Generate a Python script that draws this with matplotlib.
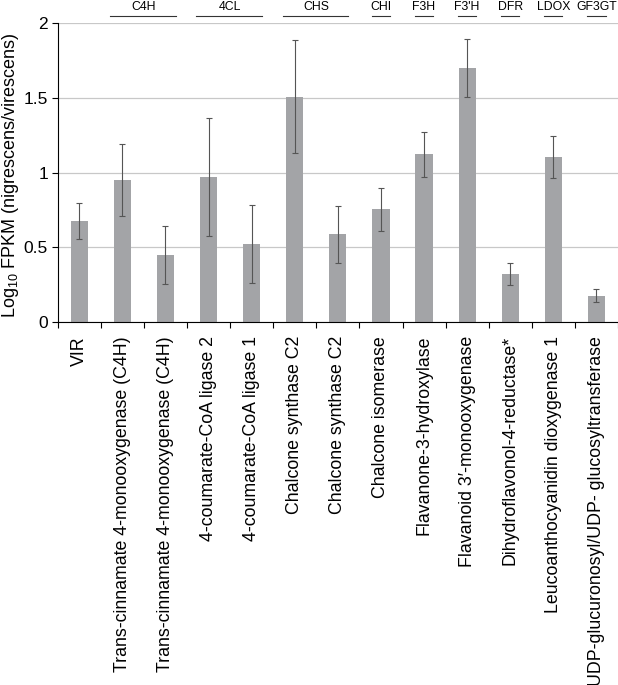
import matplotlib
matplotlib.use("Agg")
import matplotlib.pyplot as plt
import numpy as np

plt.rcParams['font.family'] = ['Liberation Sans', 'DejaVu Sans']
plt.rcParams['mathtext.fontset'] = 'custom'
plt.rcParams['mathtext.rm'] = 'Liberation Sans'

genes = ["VIR",
         "Trans-cinnamate 4-monooxygenase (C4H)",
         "Trans-cinnamate 4-monooxygenase (C4H)",
         "4-coumarate-CoA ligase 2",
         "4-coumarate-CoA ligase 1",
         "Chalcone synthase C2",
         "Chalcone synthase C2",
         "Chalcone isomerase",
         "Flavanone-3-hydroxylase",
         "Flavanoid 3\u2032-monooxygenase",
         "Dihydroflavonol-4-reductase*",
         "Leucoanthocyanidin dioxygenase 1",
         "UDP-glucuronosyl/UDP- glucosyltransferase"]
values = [0.675, 0.95, 0.446, 0.968, 0.522, 1.507, 0.588, 0.754, 1.122, 1.70, 0.321, 1.104, 0.177]
errors = [0.118, 0.242, 0.194, 0.395, 0.26, 0.378, 0.19, 0.145, 0.151, 0.196, 0.075, 0.14, 0.044]

# enzyme groups above the bars: (label, first bar, last bar)
groups = [("C4H", 1, 2), ("4CL", 3, 4), ("CHS", 5, 6), ("CHI", 7, 7), ("F3H", 8, 8),
          ("F3'H", 9, 9), ("DFR", 10, 10), ("LDOX", 11, 11), ("GF3GT", 12, 12)]

fig = plt.figure(figsize=(6.18, 6.85), dpi=100)
ax = fig.add_axes([0.0934, 0.5299, 0.9066, 0.4365])

x = np.arange(len(values))
ax.set_axisbelow(True)
ax.yaxis.grid(True, color="#c8c8c8", linewidth=0.9)
ax.bar(x, values, width=0.4, color="#a3a4a7", zorder=2)
ax.errorbar(x, values, yerr=errors, fmt="none", ecolor="#555555", elinewidth=0.8,
            capsize=2, capthick=0.8, zorder=3)

ax.set_xlim(-0.5, len(values) - 0.5)
ax.set_ylim(0, 2)
ax.set_yticks([0, 0.5, 1, 1.5, 2])
ax.set_yticklabels(["0", "0.5", "1", "1.5", "2"], fontsize=12.5)
ax.set_xticks(x)
ax.set_xticklabels(genes, rotation=90, fontsize=12.8, va="top", ha="center")
ax.set_xticks(np.arange(-0.5, len(values)), minor=True)
ax.tick_params(axis="x", which="major", length=0, pad=10)
ax.tick_params(axis="x", which="minor", length=4, width=0.8, direction="out")
ax.tick_params(axis="y", length=4, width=0.8, direction="out", pad=3)

for s in ["top", "right"]:
    ax.spines[s].set_visible(False)
ax.spines["left"].set_linewidth(0.8)
ax.spines["bottom"].set_linewidth(0.8)

ax.set_ylabel(r"Log$_{10}$ FPKM (nigrescens/virescens)", fontsize=13)
ax.yaxis.set_label_coords(-0.066, 0.49)

for name, a, b in groups:
    if a == b:
        x0, x1 = a - 0.21, b + 0.21
    else:
        x0, x1 = a - 0.28, b + 0.24
    ax.plot([x0, x1], [1.023, 1.023], color="#333333", linewidth=0.8,
            transform=ax.get_xaxis_transform(), clip_on=False)
    ax.text((a + b) / 2, 1.054, name, fontsize=8.8, ha="center", va="center",
            transform=ax.get_xaxis_transform())

fig.savefig("out.png", dpi=100)
